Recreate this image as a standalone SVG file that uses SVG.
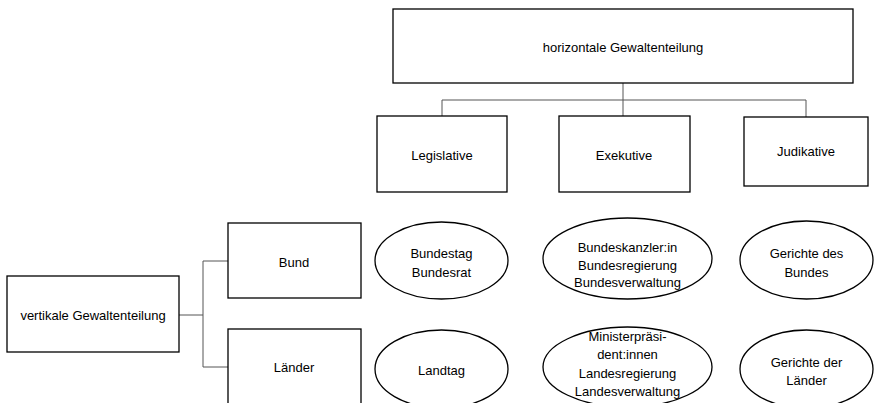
<svg xmlns="http://www.w3.org/2000/svg" width="874" height="403" viewBox="0 0 874 403">
<style>
.box{fill:#fff;stroke:#000;stroke-width:1.3}
.conn{fill:none;stroke:#555;stroke-width:1}
text{font-family:"Liberation Sans",Arial,sans-serif;font-size:13px;fill:#000;text-anchor:middle;dominant-baseline:central}
</style>
<rect width="874" height="403" fill="#fff"/>
<g id="connectors">
<path class="conn" d="M623,83 V100 M442,100 H806 M442,100 V116 M623,100 V116 M806,100 V117"/>
<path class="conn" d="M179,315 H203 M203,261 V367 M203,261 H228 M203,367 H228"/>
</g>
<g id="horizontal"><rect class="box" x="393" y="9" width="460" height="74"/><text x="623" y="47">horizontale Gewaltenteilung</text></g>
<g id="legislative"><rect class="box" x="377" y="116" width="130" height="76"/><text x="442" y="155">Legislative</text></g>
<g id="exekutive"><rect class="box" x="559" y="116" width="131" height="76"/><text x="624" y="155">Exekutive</text></g>
<g id="judikative"><rect class="box" x="744" y="117" width="124" height="69"/><text x="806" y="151">Judikative</text></g>
<g id="vertikal"><rect class="box" x="7" y="276" width="172" height="76"/><text x="93" y="315">vertikale Gewaltenteilung</text></g>
<g id="bund"><rect class="box" x="228" y="223" width="133" height="75"/><text x="294" y="262">Bund</text></g>
<g id="laender"><rect class="box" x="228" y="329" width="133" height="80"/><text x="294" y="367">Länder</text></g>
<g id="bundestag"><ellipse class="box" cx="441.5" cy="260.5" rx="66.5" ry="38.5"/><text x="441.5" y="253">Bundestag</text><text x="441.5" y="272">Bundesrat</text></g>
<g id="bundeskanzler"><ellipse class="box" cx="627.5" cy="258.5" rx="84.5" ry="40.5"/><text x="627.5" y="247">Bundeskanzler:in</text><text x="627.5" y="265">Bundesregierung</text><text x="627.5" y="282">Bundesverwaltung</text></g>
<g id="gerichte-bund"><ellipse class="box" cx="806.5" cy="260" rx="66.5" ry="39"/><text x="806.5" y="253">Gerichte des</text><text x="806.5" y="272">Bundes</text></g>
<g id="landtag"><ellipse class="box" cx="441.5" cy="369" rx="66.5" ry="39"/><text x="441.5" y="370">Landtag</text></g>
<g id="minister"><ellipse class="box" cx="627.5" cy="367" rx="84.5" ry="40"/><text x="627.5" y="336">Ministerpräsi-</text><text x="627.5" y="354">dent:innen</text><text x="627.5" y="373">Landesregierung</text><text x="627.5" y="391">Landesverwaltung</text></g>
<g id="gerichte-laender"><ellipse class="box" cx="806.5" cy="369" rx="66.5" ry="39"/><text x="806.5" y="362">Gerichte der</text><text x="806.5" y="380">Länder</text></g>
</svg>
